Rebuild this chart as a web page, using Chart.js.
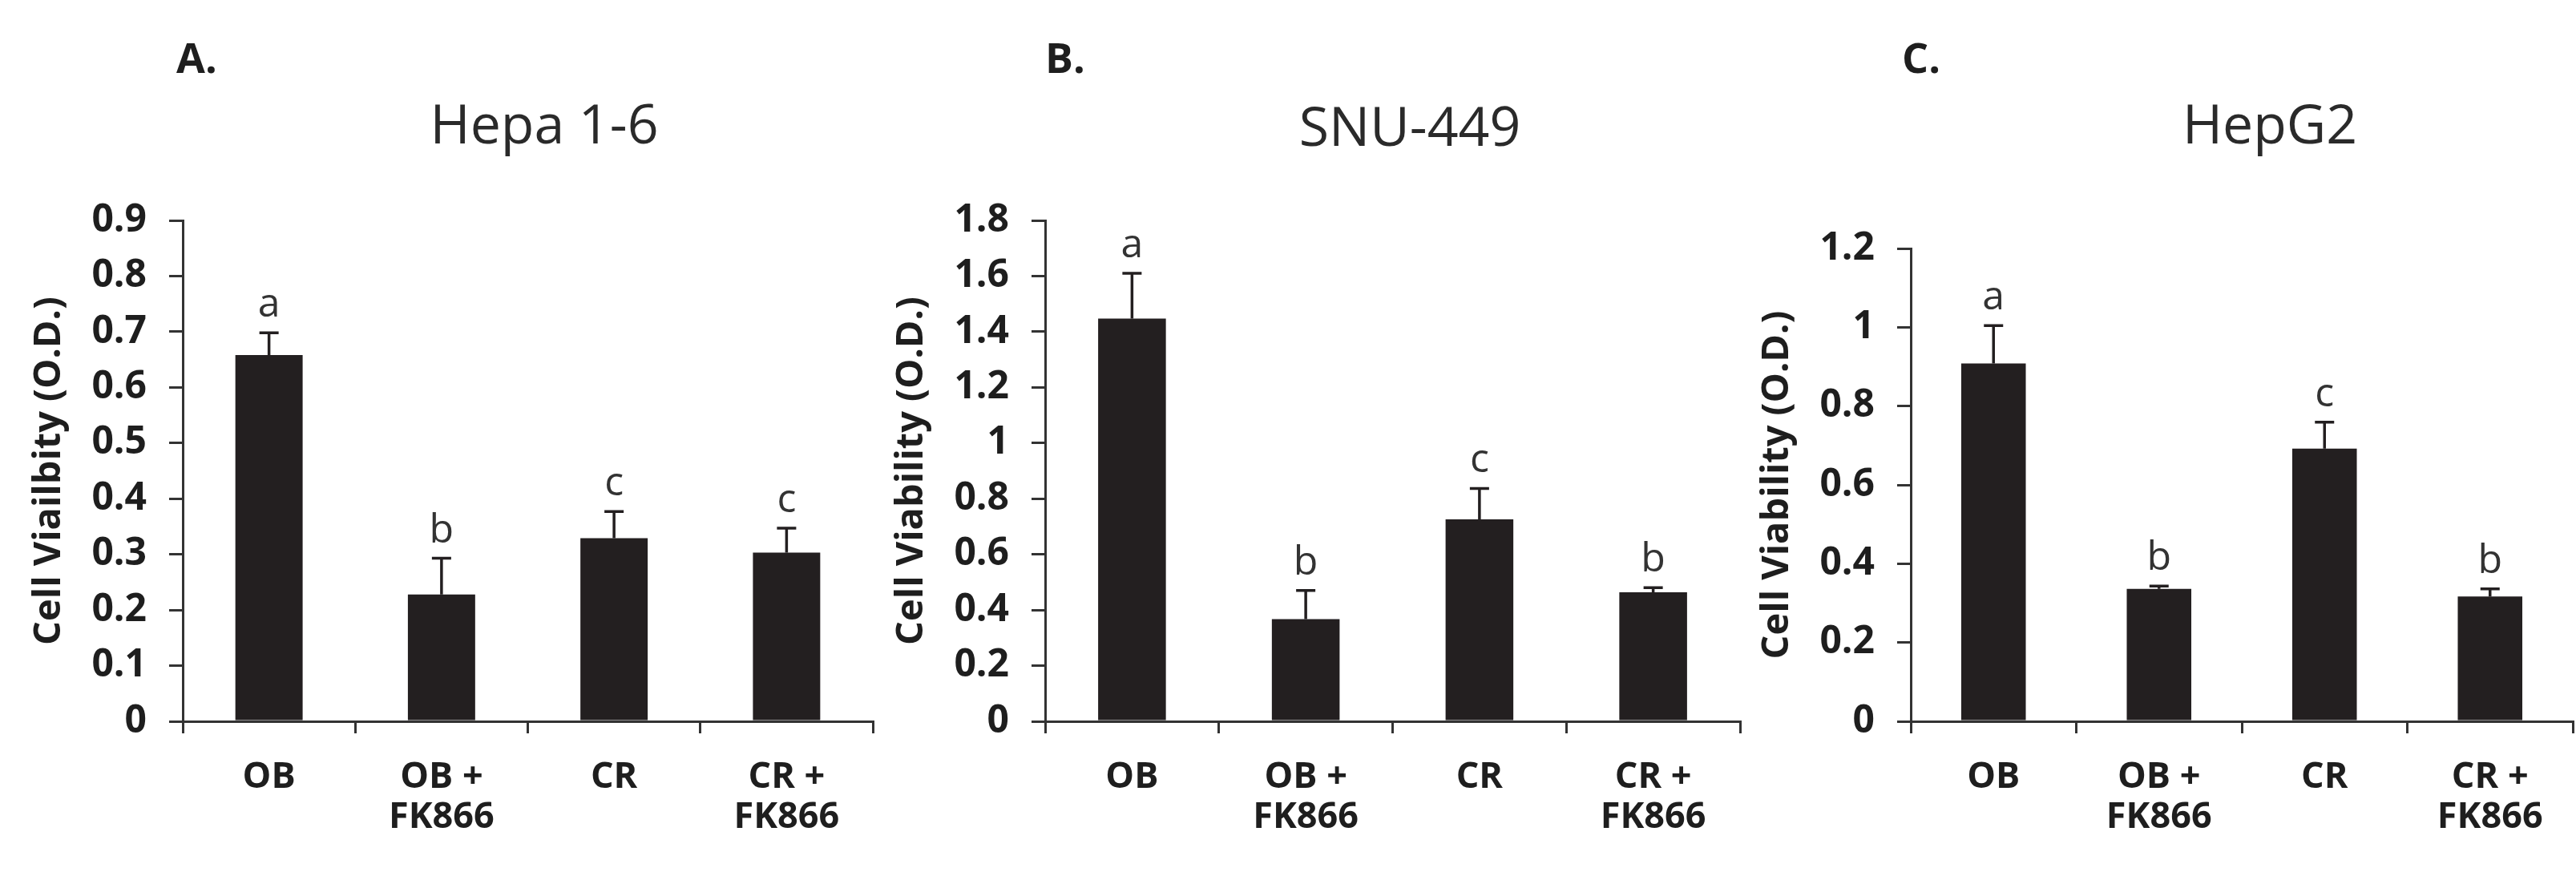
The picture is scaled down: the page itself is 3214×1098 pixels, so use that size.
<!DOCTYPE html>
<html>
<head>
<meta charset="utf-8">
<script src="https://cdn.jsdelivr.net/npm/chart.js@4.4.1/dist/chart.umd.min.js"></script>
<style>
  body { margin: 0; background: #fff; width: 3214px; height: 1098px; position: relative; overflow: hidden; font-family: "Open Sans", sans-serif; color: #222; }
  canvas { position: absolute; top: 0; }
  .panel { position: absolute; font-weight: bold; font-size: 52px; line-height: 1; color: #1e1e1e; }
  .title { position: absolute; font-size: 68px; line-height: 1; transform: translateX(-50%); white-space: nowrap; color: #2a2a2a; }
</style>
</head>
<body>
<div class="panel" style="left:220px; top:45px;">A.</div>
<div class="title" style="left:679px; top:119px;">Hepa 1-6</div>
<canvas id="chartA" width="1068" height="1098" style="left:33px;"></canvas>

<div class="panel" style="left:1304px; top:45px;">B.</div>
<div class="title" style="left:1759px; top:122px;">SNU-449</div>
<canvas id="chartB" width="1074" height="1098" style="left:1109px;"></canvas>

<div class="panel" style="left:2373px; top:45px;">C.</div>
<div class="title" style="left:2832px; top:119px;">HepG2</div>
<canvas id="chartC" width="1025" height="1098" style="left:2189px;"></canvas>

<script>
// categories shared by all three panels
var categories = [['OB'], ['OB +', 'FK866'], ['CR'], ['CR +', 'FK866']];

// A. Hepa 1-6
var hepaValues = [0.658, 0.228, 0.329, 0.303];
var hepaErrors = [0.040, 0.065, 0.048, 0.044];
var hepaLetters = ['a', 'b', 'c', 'c'];
var hepaTicks = [0, 0.1, 0.2, 0.3, 0.4, 0.5, 0.6, 0.7, 0.8, 0.9];
var hepaTickLabels = ['0', '0.1', '0.2', '0.3', '0.4', '0.5', '0.6', '0.7', '0.8', '0.9'];

// B. SNU-449
var snuValues = [1.447, 0.367, 0.726, 0.464];
var snuErrors = [0.163, 0.103, 0.111, 0.016];
var snuLetters = ['a', 'b', 'c', 'b'];
var snuTicks = [0, 0.2, 0.4, 0.6, 0.8, 1, 1.2, 1.4, 1.6, 1.8];
var snuTickLabels = ['0', '0.2', '0.4', '0.6', '0.8', '1', '1.2', '1.4', '1.6', '1.8'];

// C. HepG2
var hepg2Values = [0.908, 0.336, 0.692, 0.317];
var hepg2Errors = [0.096, 0.007, 0.067, 0.019];
var hepg2Letters = ['a', 'b', 'c', 'b'];
var hepg2Ticks = [0, 0.2, 0.4, 0.6, 0.8, 1, 1.2];
var hepg2TickLabels = ['0', '0.2', '0.4', '0.6', '0.8', '1', '1.2'];

var barColor = '#231f20';
var axisColor = '#333333';

// draws the upper error bar and the significance letter over each bar
var errorBarPlugin = {
    id: 'errorBars',
    afterDatasetsDraw: function(chart, args, opts) {
        var ctx = chart.ctx;
        var yScale = chart.scales.y;
        var meta = chart.getDatasetMeta(0);
        var values = chart.data.datasets[0].data;
        ctx.save();
        meta.data.forEach(function(bar, i) {
            var yBar = yScale.getPixelForValue(values[i]);
            var yTop = yScale.getPixelForValue(values[i] + opts.errors[i]);
            ctx.strokeStyle = barColor;
            ctx.lineWidth = 3.5;
            ctx.beginPath();
            ctx.moveTo(bar.x, yBar);
            ctx.lineTo(bar.x, yTop);
            ctx.moveTo(bar.x - 12, yTop);
            ctx.lineTo(bar.x + 12, yTop);
            ctx.stroke();
            ctx.fillStyle = '#333';
            ctx.font = '50px "Open Sans"';
            ctx.textAlign = 'center';
            ctx.textBaseline = 'alphabetic';
            ctx.fillText(opts.letters[i], bar.x, yTop - 20);
        });
        ctx.restore();
    }
};

function makeChart(id, values, errors, letters, ticks, tickLabels, yTitle, topPad, rightPad) {
    var ctx = document.getElementById(id).getContext('2d');
    return new Chart(ctx, {
        type: 'bar',
        data: {
            labels: categories,
            datasets: [{
                data: values,
                backgroundColor: barColor,
                borderWidth: 0,
                barPercentage: 0.39,
                categoryPercentage: 1
            }]
        },
        options: {
            responsive: false,
            animation: false,
            devicePixelRatio: 1,
            layout: { padding: { top: topPad, right: rightPad, bottom: 0, left: 0 } },
            plugins: {
                legend: { display: false },
                tooltip: { enabled: false },
                errorBars: { errors: errors, letters: letters }
            },
            scales: {
                x: {
                    offset: true,
                    grid: { offset: true, drawOnChartArea: false, drawTicks: true, tickLength: 15, color: axisColor, lineWidth: 3 },
                    border: { color: axisColor, width: 3 },
                    ticks: {
                        color: '#1e1e1e',
                        padding: 30,
                        maxRotation: 0,
                        autoSkip: false,
                        font: { family: 'Open Sans', size: 45, weight: 'bold', lineHeight: 1.12 }
                    },
                    afterFit: function(scale) { scale.height = 198; }
                },
                y: {
                    min: 0,
                    max: ticks[ticks.length - 1],
                    afterBuildTicks: function(scale) {
                        scale.ticks = ticks.map(function(v) { return { value: v }; });
                    },
                    grid: { drawOnChartArea: false, drawTicks: true, tickLength: 17, color: axisColor, lineWidth: 3 },
                    border: { color: axisColor, width: 3 },
                    ticks: {
                        color: '#1e1e1e',
                        padding: 28,
                        font: { family: 'Open Sans', size: 48, weight: 'bold' },
                        callback: function(value, index) { return tickLabels[index]; }
                    },
                    title: {
                        display: true,
                        text: yTitle,
                        color: '#1e1e1e',
                        padding: 0,
                        font: { family: 'Open Sans', size: 47, weight: 'bold' }
                    },
                    afterFit: function(scale) { scale.width = 195; }
                }
            }
        },
        plugins: [errorBarPlugin]
    });
}

window.onload = function() {
    makeChart('chartA', hepaValues, hepaErrors, hepaLetters, hepaTicks, hepaTickLabels, 'Cell Viailbity (O.D.)', 275, 12);
    makeChart('chartB', snuValues, snuErrors, snuLetters, snuTicks, snuTickLabels, 'Cell Viability (O.D.)', 275, 12);
    makeChart('chartC', hepg2Values, hepg2Errors, hepg2Letters, hepg2Ticks, hepg2TickLabels, 'Cell Viability (O.D.)', 310, 4);
};
</script>
</body>
</html>
